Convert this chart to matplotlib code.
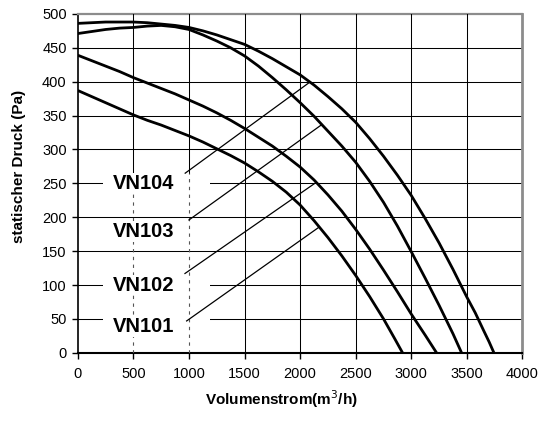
import numpy as np
import matplotlib
matplotlib.use("Agg")
import matplotlib.pyplot as plt
from matplotlib.patches import Rectangle

plt.rcParams['font.family'] = ['Liberation Sans', 'DejaVu Sans']

# Fan characteristic curves: volume flow (m3/h) -> static pressure (Pa)
vn101_flow = [0, 125, 250, 375, 500, 625, 750, 875, 1000, 1125, 1250, 1375, 1500,
              1625, 1750, 1875, 2000, 2125, 2250, 2375, 2500, 2625, 2750, 2850, 2921]
vn101_pressure = [387, 378, 369, 360, 351, 343, 336, 328, 320, 311, 301, 291, 280,
                  267, 253, 237, 218, 195, 170, 143, 114, 83, 50, 21, 0]

vn102_flow = [0, 125, 250, 375, 500, 625, 750, 875, 1000, 1125, 1250, 1375, 1500,
              1625, 1750, 1875, 2000, 2125, 2250, 2375, 2500, 2625, 2750, 2875,
              3000, 3125, 3227]
vn102_pressure = [439, 431, 423, 415, 406, 398, 390, 382, 373, 364, 354, 343, 331,
                  318, 305, 290, 274, 255, 233, 209, 182, 153, 122, 90,
                  57, 26, 0]

vn103_flow = [0, 125, 250, 375, 500, 625, 750, 875, 1000, 1125, 1250, 1375, 1500,
              1625, 1750, 1875, 2000, 2125, 2250, 2375, 2500, 2625, 2750, 2875,
              3000, 3125, 3250, 3375, 3452]
vn103_pressure = [471, 474, 477, 479, 480, 482, 483, 481, 477, 469, 460, 450, 438,
                  423, 406, 388, 369, 349, 327, 305, 281, 253, 222, 187,
                  149, 110, 70, 28, 0]

vn104_flow = [0, 125, 250, 375, 500, 625, 750, 875, 1000, 1125, 1250, 1375, 1500,
              1625, 1750, 1875, 2000, 2125, 2250, 2375, 2500, 2625, 2750, 2875,
              3000, 3125, 3250, 3375, 3500, 3575, 3650, 3700, 3743]
vn104_pressure = [486, 487, 488, 488, 488, 487, 485, 483, 480, 475, 469, 462, 455,
                  445, 434, 422, 410, 395, 378, 360, 340, 316, 290, 262,
                  232, 198, 162, 123, 82, 59, 33, 16, 0]

model_names = ["VN101", "VN102", "VN103", "VN104"]

x_ticks = [0, 500, 1000, 1500, 2000, 2500, 3000, 3500, 4000]
y_ticks = [0, 50, 100, 150, 200, 250, 300, 350, 400, 450, 500]

curves = [
    (vn101_flow, vn101_pressure),
    (vn102_flow, vn102_pressure),
    (vn103_flow, vn103_pressure),
    (vn104_flow, vn104_pressure),
]

fig = plt.figure(figsize=(5.41, 4.21), dpi=100)
ax = fig.add_axes([0.1438, 0.162, 0.822, 0.805])
ax.set_xlim(0, 4000)
ax.set_ylim(0, 500)

# horizontal grid
for y in y_ticks[1:-1]:
    ax.axhline(y, color='black', lw=0.75, zorder=1)

# white panels behind the model labels
label_y = [38.5, 100, 178.6, 250]
for yc in label_y:
    ax.add_patch(Rectangle((228, yc - 14), 960, 28, facecolor='white',
                           edgecolor='none', zorder=2))

# vertical grid (dotted inside the label column)
for x in x_ticks[1:-1]:
    if x in (500, 1000):
        ax.plot([x, x], [266, 500], color='black', lw=0.75, zorder=3)
        ax.plot([x, x], [0, 266], color='#555555', lw=0.8, zorder=3,
                dashes=(3, 4))
    else:
        ax.axvline(x, color='black', lw=0.75, zorder=3)

# fan curves
for flow, pressure in curves:
    ax.plot(flow, pressure, color='black', lw=2.0, zorder=4,
            solid_capstyle='butt', solid_joinstyle='round')

# leader lines from the labels to their curves
leader_start = [(979, 47), (964, 117), (1000, 196), (966, 265)]
leader_end_flow = [2172, 2145, 2195, 2088]
for (flow, pressure), (x0, y0), xe in zip(curves, leader_start, leader_end_flow):
    ye = np.interp(xe, flow, pressure)
    ax.plot([x0, xe], [y0, ye], color='black', lw=0.9, zorder=4)

for name, yc in zip(model_names, label_y):
    ax.text(589, yc, name, ha='center', va='center', fontsize=14.5,
            fontweight='bold', zorder=6,
            bbox=dict(facecolor='white', edgecolor='none', pad=0.6))

ax.set_xticks(x_ticks)
ax.set_yticks(y_ticks)
ax.tick_params(axis='both', direction='out', length=4, width=1,
               labelsize=10.5, color='black')
ax.tick_params(axis='x', pad=6)
ax.tick_params(axis='y', pad=4)

for side in ('top', 'right'):
    ax.spines[side].set_color('#8c8c8c')
ax.spines['top'].set_linewidth(1.6)
ax.spines['right'].set_linewidth(2.0)
ax.spines['left'].set_color('black')
ax.spines['left'].set_linewidth(1.2)
ax.spines['bottom'].set_color('black')
ax.spines['bottom'].set_linewidth(1.5)

fig.text(0.5203, 0.052, 'Volumenstrom(m$^3$/h)', ha='center', va='center',
         fontsize=11, fontweight='bold')
fig.text(0.035, 0.604, 'statischer Druck (Pa)', ha='center', va='center',
         rotation=90, fontsize=11, fontweight='bold')

fig.savefig('out.png', dpi=100)
